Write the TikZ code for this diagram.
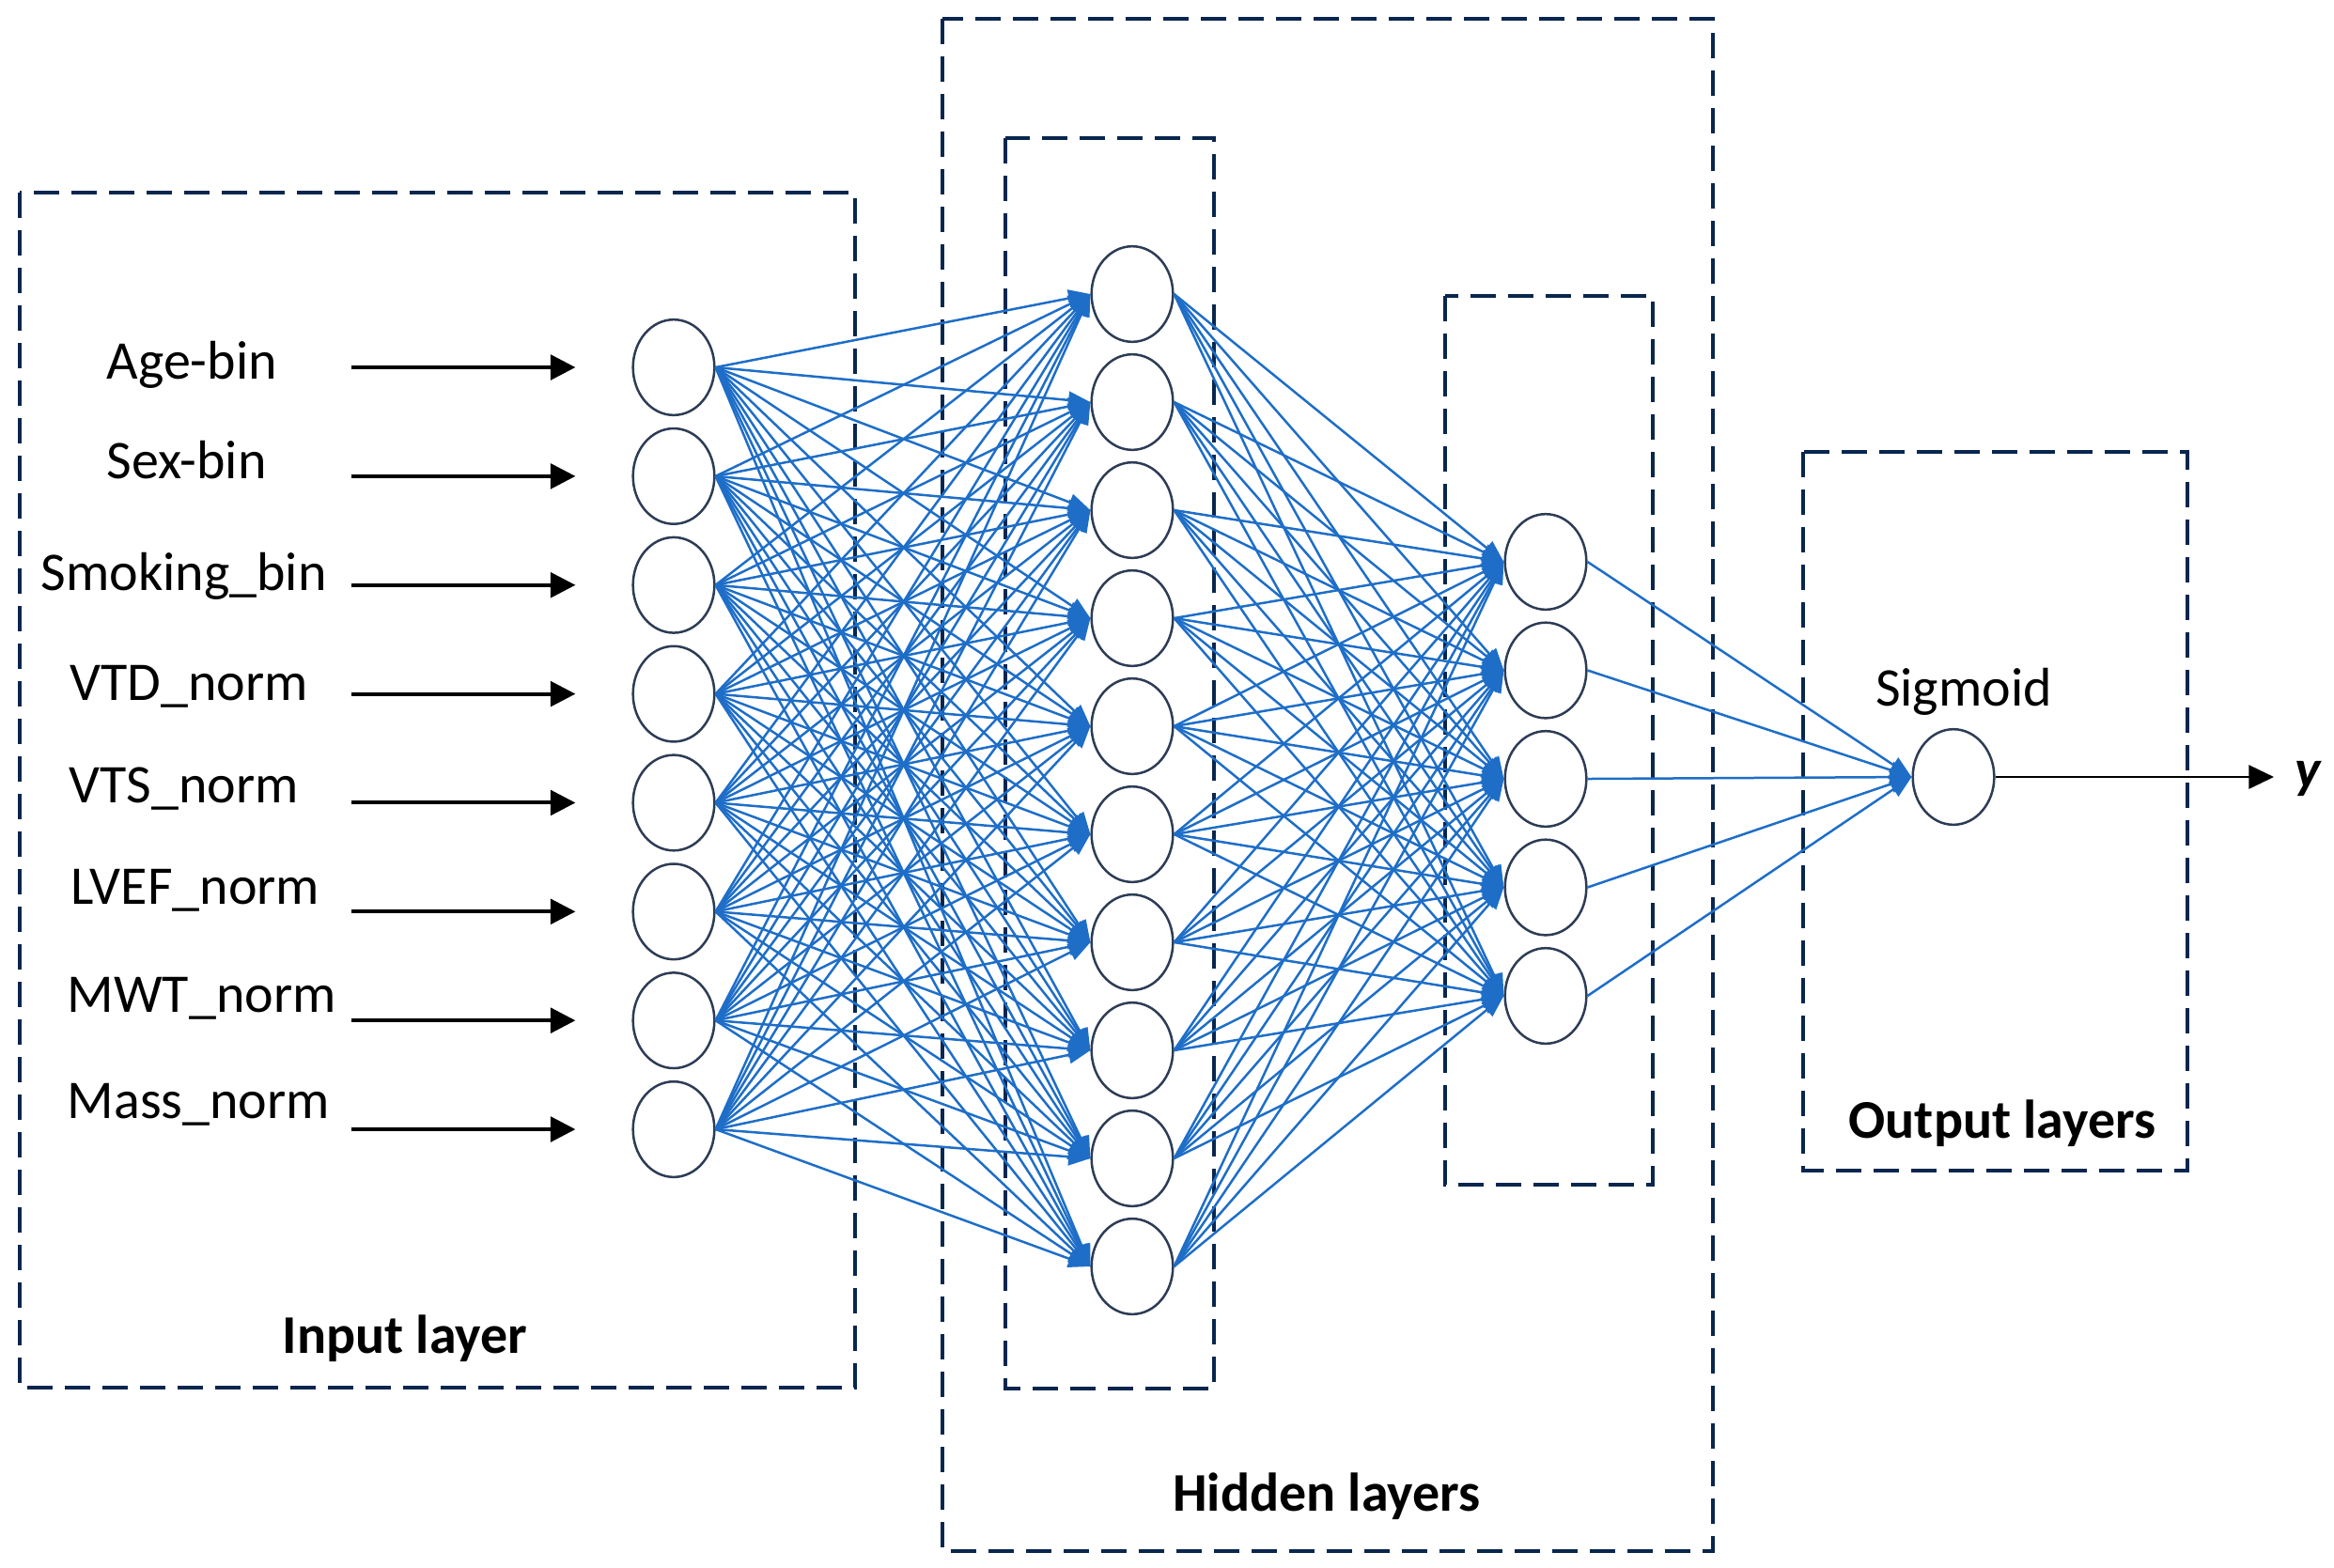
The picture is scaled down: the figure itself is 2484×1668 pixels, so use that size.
\documentclass[tikz,border=0pt]{standalone}
\usepackage{fontspec}
\setmainfont{Carlito}
\usetikzlibrary{shapes.geometric,arrows.meta}
\definecolor{boxcol}{RGB}{8,38,78}
\definecolor{nodecol}{RGB}{45,60,85}
\definecolor{linkcol}{RGB}{30,110,200}
\begin{document}
\begin{tikzpicture}[x=0.3pt,y=-0.3pt,
  font=\fontsize{17.4}{20}\selectfont,
  layerbox/.style={draw=boxcol,line width=1.05pt,dash pattern=on 8pt off 4pt},
  neuron/.style={ellipse,draw=nodecol,line width=0.75pt,minimum width=26pt,minimum height=30.5pt,inner sep=0pt,fill=white},
  link/.style={draw=linkcol,line width=0.75pt,-{Triangle[length=7pt,width=5.5pt]}},
  inarrow/.style={draw=black,line width=1.2pt,-{Triangle[length=8pt,width=8pt]}},
  outarrow/.style={draw=black,line width=0.85pt,-{Triangle[length=8pt,width=7.5pt]}},
  lbl/.style={anchor=base west,inner sep=0pt},
  title/.style={anchor=base,inner sep=0pt,font=\fontsize{17.4}{20}\selectfont\bfseries}]
\useasboundingbox (0,0) rectangle (2484,1668);
% layer boxes
\draw[layerbox] (21,205) rectangle (910,1477);
\draw[layerbox] (1003,20) rectangle (1823,1651);
\draw[layerbox] (1070,147) rectangle (1292,1478);
\draw[layerbox] (1538,315) rectangle (1759,1261);
\draw[layerbox] (1919,481) rectangle (2328,1246);
% neurons
\foreach \i [evaluate=\i as \yy using 391+115.86*(\i-1)] in {1,...,8}
  \node[neuron] (in\i) at (717,\yy) {};
\foreach \k [evaluate=\k as \yy using 313+115*(\k-1)] in {1,...,10}
  \node[neuron] (h\k) at (1205,\yy) {};
\foreach \j [evaluate=\j as \yy using 598+115.5*(\j-1)] in {1,...,5}
  \node[neuron] (g\j) at (1645,\yy) {};
\node[neuron] (out) at (2079,827) {};
% connections
\foreach \i in {1,...,8}
  \foreach \k in {1,...,10}
    \draw[link] (in\i.east) -- (h\k.west);
\foreach \k in {1,...,10}
  \foreach \j in {1,...,5}
    \draw[link] (h\k.east) -- (g\j.west);
\foreach \j in {1,...,5}
  \draw[link] (g\j.east) -- (out.west);
% input labels
\node[lbl] (l1) at (113,403) {Age-bin};
\node[lbl] (l2) at (113,509) {Sex-bin};
\node[lbl] (l3) at (43,628) {Smoking\_bin};
\node[lbl] (l4) at (74,745) {VTD\_norm};
\node[lbl] (l5) at (73,854) {VTS\_norm};
\node[lbl] (l6) at (75,962) {LVEF\_norm};
\node[lbl] (l7) at (71,1077) {MWT\_norm};
\node[lbl] (l8) at (71,1190) {Mass\_norm};
\foreach \i in {1,...,8}
  \draw[inarrow] ([xshift=-89.4pt]in\i.west) -- ([xshift=-18pt]in\i.west);
% output
\coordinate (yend) at (2420,827);
\draw[outarrow] (out.east) -- (yend);
\node[anchor=base,inner sep=0pt,font=\fontsize{17.4}{20}\selectfont\bfseries\itshape] (ylbl) at (2456,838) {y};
\node[anchor=base,inner sep=0pt] (sig) at (2090,751) {Sigmoid};
% titles
\node[title] (tin) at (431,1440) {Input layer};
\node[title] (thid) at (1412,1608) {Hidden layers};
\node[title] (tout) at (2131,1211) {Output layers};
\end{tikzpicture}
\end{document}
